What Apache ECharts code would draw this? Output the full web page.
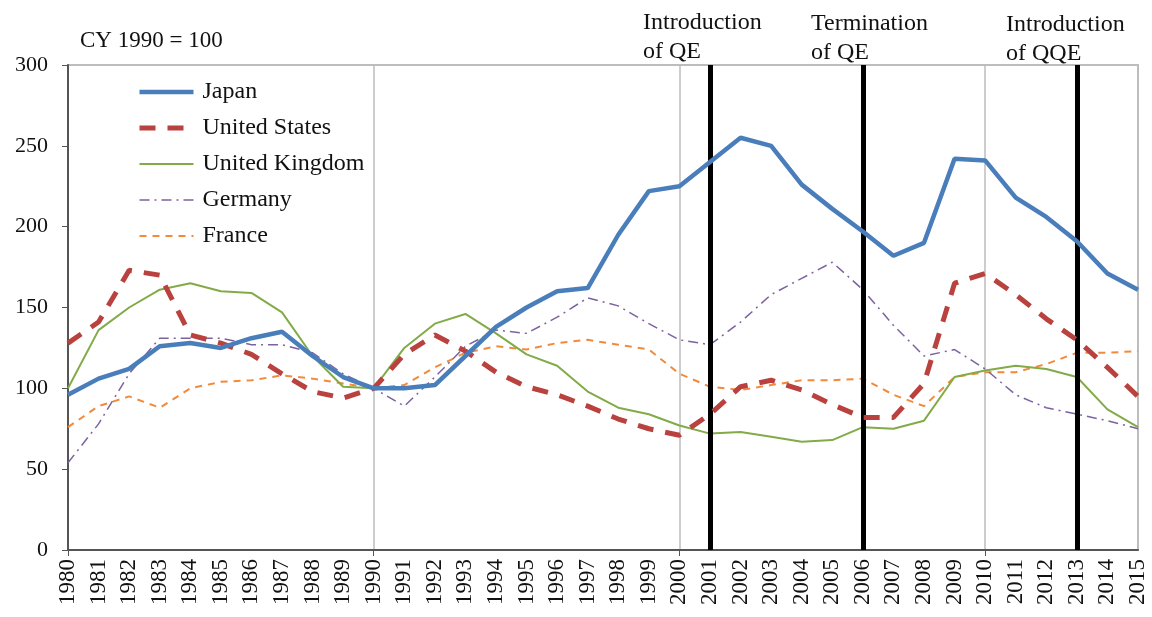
<!DOCTYPE html>
<html>
<head>
<meta charset="utf-8">
<script src="https://cdn.jsdelivr.net/npm/echarts@6/dist/echarts.min.js"></script>
<style>
  html, body { margin: 0; padding: 0; background: #fff; }
  #main { width: 1152px; height: 617px; }
</style>
</head>
<body>
<div id="main"></div>
<script>
const years = []
for (let y = 1980; y <= 2015; y++) years.push(String(y))

// CY 1990 = 100
const japan = [96, 106, 112, 126, 128, 125, 131, 135, 120, 107, 100, 100, 102, 120, 138, 150, 160, 162, 195, 222, 225, 240, 255, 250, 226, 211, 197, 182, 190, 242, 241, 218, 206, 191, 171, 161]
const unitedStates = [128, 141, 173, 170, 133, 128, 121, 109, 98, 94, 100, 121, 133, 123, 110, 101, 96, 89, 81, 75, 71, 84, 101, 105, 99, 90, 82, 82, 103, 165, 171, 158, 143, 130, 113, 95]
const unitedKingdom = [100, 136, 150, 161, 165, 160, 159, 147, 120, 101, 100, 125, 140, 146, 134, 121, 114, 98, 88, 84, 77, 72, 73, 70, 67, 68, 76, 75, 80, 107, 111, 114, 112, 107, 87, 76]
const germany = [54, 78, 109, 131, 131, 131, 127, 127, 122, 109, 100, 89, 107, 126, 136, 134, 144, 156, 151, 140, 130, 127, 141, 158, 168, 178, 161, 139, 120, 124, 112, 96, 88, 84, 80, 75]
const france = [76, 89, 95, 88, 100, 104, 105, 108, 106, 103, 100, 102, 113, 122, 126, 124, 128, 130, 127, 124, 109, 101, 99, 102, 105, 105, 106, 96, 89, 107, 110, 110, 115, 122, 122, 123]

const policyYears = ['2001', '2006', '2013']
const policyLabels = ['Introduction\nof QE', 'Termination\nof QE', 'Introduction\nof QQE']

const serif = '"Liberation Serif", "DejaVu Serif", serif'

var chartDom = document.getElementById('main')
var myChart = echarts.init(chartDom)

function lineSeries(name, data, color, width, dash, z) {
  return {
    name: name,
    type: 'line',
    data: data,
    symbol: 'none',
    z: z,
    lineStyle: { color: color, width: width, type: dash, cap: 'butt' },
    itemStyle: { color: color }
  }
}

const series = [
  lineSeries('Japan', japan, '#4a7ebb', 4.5, 'solid', 6),
  lineSeries('United States', unitedStates, '#b9413e', 5, [16, 12], 5),
  lineSeries('United Kingdom', unitedKingdom, '#82ab48', 2, 'solid', 4),
  lineSeries('Germany', germany, '#7b62a0', 1.5, [10, 5, 2, 5], 3),
  lineSeries('France', france, '#f28a3c', 2, [7, 6], 2)
]

series[0].markLine = {
  silent: true,
  symbol: 'none',
  animation: false,
  label: { show: false },
  lineStyle: { color: '#000', width: 5, type: 'solid' },
  data: policyYears.map(y => ({ xAxis: y }))
}

var option = {
  animation: false,
  textStyle: { fontFamily: serif },
  grid: {
    left: 68, right: 14, top: 65, bottom: 67,
    show: true, borderColor: '#bdbdbd', borderWidth: 2
  },
  legend: {
    orient: 'vertical',
    left: 137,
    top: 80,
    padding: 0,
    itemWidth: 54,
    itemHeight: 14,
    itemGap: 12,
    itemStyle: { opacity: 0, borderWidth: 0 },
    lineStyle: { width: 'inherit' },
    textStyle: { fontFamily: serif, fontSize: 24, lineHeight: 24, color: '#111', padding: [0, 0, 0, 4] },
    data: ['Japan', 'United States', 'United Kingdom', 'Germany', 'France']
  },
  graphic: [
    { type: 'text', left: 80, top: 29, style: { text: 'CY 1990 = 100', font: '23px ' + serif, fill: '#111' } },
    { type: 'text', left: 643, top: 8, style: { text: policyLabels[0], font: '24px ' + serif, fill: '#111', lineHeight: 29 } },
    { type: 'text', left: 811, top: 9, style: { text: policyLabels[1], font: '24px ' + serif, fill: '#111', lineHeight: 29 } },
    { type: 'text', left: 1006, top: 10, style: { text: policyLabels[2], font: '24px ' + serif, fill: '#111', lineHeight: 29 } }
  ],
  xAxis: {
    type: 'category',
    data: years,
    boundaryGap: false,
    axisLine: { lineStyle: { color: '#555', width: 2 } },
    axisTick: { show: true, interval: (i) => i % 10 === 0, length: 6, lineStyle: { color: '#555' } },
    splitLine: { show: true, interval: (i) => i % 10 === 0, lineStyle: { color: '#bdbdbd', width: 1.5 } },
    axisLabel: { rotate: 90, interval: 0, fontSize: 23, color: '#111', fontFamily: serif, margin: 9 }
  },
  yAxis: {
    type: 'value',
    min: 0,
    max: 300,
    interval: 50,
    axisLine: { show: true, lineStyle: { color: '#555', width: 2 } },
    axisTick: { show: true, length: 6, lineStyle: { color: '#555' } },
    splitLine: { show: false },
    axisLabel: { fontSize: 22, color: '#111', fontFamily: serif, margin: 20 }
  },
  series: series
}

option && myChart.setOption(option)
</script>
</body>
</html>
